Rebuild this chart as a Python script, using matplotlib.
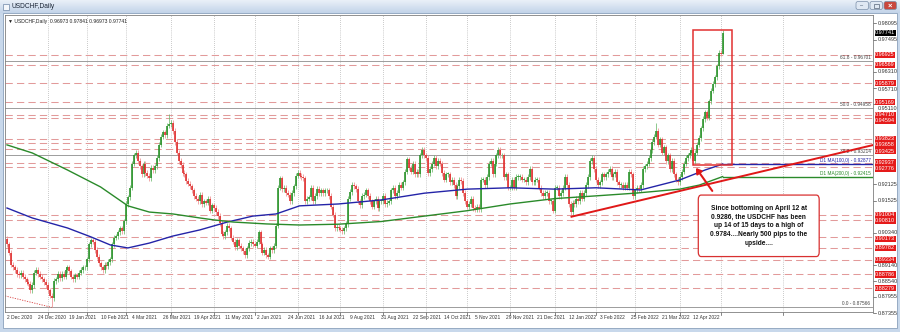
import numpy as np
import pandas as pd
import matplotlib.pyplot as plt
from matplotlib.patches import Rectangle, FancyBboxPatch, FancyArrowPatch

plt.rcParams['font.family'] = ['Liberation Sans', 'DejaVu Sans']

# daily closes, one list per month
close_2020_12 = [0.8990, 0.8960, 0.8915, 0.8905, 0.8895, 0.8880, 0.8875, 0.8885, 0.8870, 0.8860, 0.8850,
                 0.8845, 0.8820, 0.8840, 0.8885, 0.8895, 0.8880, 0.8870, 0.8860, 0.8850, 0.8840]
close_2021_01 = [0.8820, 0.8800, 0.8790, 0.8855, 0.8860, 0.8880, 0.8865, 0.8880, 0.8870, 0.8895,
                 0.8905, 0.8890, 0.8870, 0.8860, 0.8875, 0.8870, 0.8885, 0.8895, 0.8905, 0.8905]
close_2021_02 = [0.8935, 0.8990, 0.9005, 0.9000, 0.8970, 0.8945, 0.8920, 0.8905, 0.8895, 0.8915,
                 0.8910, 0.8925, 0.8935, 0.8990, 0.9015, 0.9020, 0.9035, 0.9050, 0.9040, 0.9075]
close_2021_03 = [0.9140, 0.9165, 0.9200, 0.9290, 0.9320, 0.9330, 0.9300, 0.9280, 0.9250, 0.9290, 0.9255, 0.9245,
                 0.9235, 0.9275, 0.9265, 0.9280, 0.9310, 0.9360, 0.9390, 0.9405, 0.9395, 0.9430, 0.9435]
close_2021_04 = [0.9440, 0.9410, 0.9370, 0.9330, 0.9300, 0.9285, 0.9255, 0.9250, 0.9225, 0.9215, 0.9205,
                 0.9190, 0.9170, 0.9160, 0.9150, 0.9175, 0.9140, 0.9150, 0.9145, 0.9160, 0.9115, 0.9135]
close_2021_05 = [0.9125, 0.9110, 0.9095, 0.9070, 0.9030, 0.9020, 0.9035, 0.9060, 0.9050, 0.9015, 0.9000,
                 0.8980, 0.9005, 0.8985, 0.8975, 0.8965, 0.8950, 0.8975, 0.8995, 0.9000, 0.8990]
close_2021_06 = [0.8985, 0.9000, 0.9035, 0.8990, 0.8960, 0.8970, 0.8950, 0.8945, 0.8975, 0.8970, 0.8985,
                 0.9060, 0.9200, 0.9235, 0.9195, 0.9200, 0.9180, 0.9175, 0.9150, 0.9180, 0.9205, 0.9245]
close_2021_07 = [0.9255, 0.9245, 0.9240, 0.9235, 0.9150, 0.9160, 0.9165, 0.9200, 0.9150, 0.9170, 0.9195,
                 0.9180, 0.9190, 0.9180, 0.9190, 0.9190, 0.9170, 0.9130, 0.9100, 0.9050, 0.9055, 0.9050]
close_2021_08 = [0.9045, 0.9040, 0.9050, 0.9065, 0.9160, 0.9185, 0.9210, 0.9205, 0.9195, 0.9150, 0.9135,
                 0.9170, 0.9175, 0.9190, 0.9170, 0.9150, 0.9130, 0.9150, 0.9160, 0.9125, 0.9150, 0.9150]
close_2021_09 = [0.9170, 0.9140, 0.9145, 0.9150, 0.9190, 0.9200, 0.9170, 0.9180, 0.9210, 0.9200, 0.9220,
                 0.9260, 0.9305, 0.9275, 0.9260, 0.9290, 0.9250, 0.9260, 0.9250, 0.9320, 0.9340, 0.9320]
close_2021_10 = [0.9310, 0.9255, 0.9270, 0.9290, 0.9310, 0.9280, 0.9300, 0.9290, 0.9255, 0.9230, 0.9250,
                 0.9250, 0.9220, 0.9230, 0.9210, 0.9170, 0.9205, 0.9230, 0.9225, 0.9180, 0.9150]
close_2021_11 = [0.9130, 0.9140, 0.9160, 0.9125, 0.9120, 0.9130, 0.9120, 0.9230, 0.9230, 0.9210, 0.9240,
                 0.9290, 0.9300, 0.9250, 0.9290, 0.9320, 0.9340, 0.9320, 0.9320, 0.9240, 0.9250, 0.9200]
close_2021_12 = [0.9200, 0.9230, 0.9200, 0.9240, 0.9240, 0.9240, 0.9230, 0.9230, 0.9220, 0.9240, 0.9270, 0.9220,
                 0.9220, 0.9230, 0.9230, 0.9200, 0.9180, 0.9170, 0.9180, 0.9180, 0.9150, 0.9150, 0.9115]
close_2022_01 = [0.9200, 0.9200, 0.9170, 0.9180, 0.9200, 0.9240, 0.9210, 0.9140, 0.9110, 0.9145, 0.9140,
                 0.9160, 0.9150, 0.9180, 0.9160, 0.9180, 0.9210, 0.9240, 0.9300, 0.9310, 0.9270]
close_2022_02 = [0.9230, 0.9210, 0.9220, 0.9250, 0.9240, 0.9250, 0.9260, 0.9270, 0.9240, 0.9250,
                 0.9260, 0.9220, 0.9210, 0.9210, 0.9200, 0.9210, 0.9200, 0.9260, 0.9250, 0.9170]
close_2022_03 = [0.9190, 0.9200, 0.9195, 0.9210, 0.9270, 0.9280, 0.9290, 0.9310, 0.9340, 0.9370, 0.9390, 0.9410,
                 0.9360, 0.9380, 0.9330, 0.9350, 0.9300, 0.9320, 0.9270, 0.9300, 0.9250, 0.9230, 0.9220]
close_2022_04 = [0.9240, 0.9260, 0.9290, 0.9310, 0.9320, 0.9330, 0.9340, 0.9300, 0.9330, 0.9360, 0.9385,
                 0.9420, 0.9455, 0.9480, 0.9460, 0.9520, 0.9560, 0.9585, 0.9610, 0.9650, 0.9700]
close_2022_05 = [0.96973, 0.97741]

first_open = 0.9010
wick = 0.0010
spike_idx = [23, 83, 289, 333, 352, 367]
spike_low = [0.87566, None, 0.9092, None, 0.9286, 0.96973]
spike_high = [None, 0.9473, None, 0.9440, None, 0.97841]

# moving averages sampled along the drawn curves (bar index, price)
ma100_idx = [0, 13, 31, 43, 53, 62, 73, 85, 99, 113, 126, 138, 150, 170, 192, 214, 236, 258, 281, 302, 325, 345, 358, 367]
ma100_val = [0.9125, 0.9088, 0.9051, 0.9018, 0.8988, 0.8977, 0.8995, 0.9021, 0.9044, 0.9073, 0.9095, 0.9103,
             0.9133, 0.9140, 0.9155, 0.9180, 0.9195, 0.9200, 0.9195, 0.9200, 0.9192, 0.9229, 0.9266, 0.92877]
ma200_idx = [0, 13, 31, 48, 62, 73, 85, 99, 106, 116, 133, 150, 170, 192, 214, 236, 258, 281, 302, 322, 345, 355, 367]
ma200_val = [0.9359, 0.9329, 0.9266, 0.9203, 0.9133, 0.9110, 0.9103, 0.9088, 0.9081, 0.9073, 0.9066, 0.9062,
             0.9065, 0.9075, 0.9095, 0.9115, 0.9140, 0.9160, 0.9170, 0.9180, 0.9195, 0.9210, 0.92415]

fib_levels = [0.96701, 0.94958, 0.93214, 0.87566]
fib_names = ['61.8', '50.0', '38.2', '0.0']
red_levels = [0.96925, 0.96569, 0.95879, 0.95169, 0.94710, 0.94594, 0.93823, 0.93658, 0.93425,
              0.92937, 0.92776, 0.91004, 0.90810, 0.90173, 0.89782, 0.89334, 0.88786, 0.88279]
grey_ticks = [0.98095, 0.97495, 0.96310, 0.95710, 0.95110, 0.92125, 0.91525, 0.90340,
              0.89140, 0.88540, 0.87955, 0.87355]
last_price = 0.97741
trend_idx = [289, 445]
trend_val = [0.9092, 0.9360]
date_labels = ['2 Dec 2020', '24 Dec 2020', '19 Jan 2021', '10 Feb 2021', '4 Mar 2021', '26 Mar 2021',
               '19 Apr 2021', '11 May 2021', '2 Jun 2021', '24 Jun 2021', '16 Jul 2021', '9 Aug 2021',
               '31 Aug 2021', '22 Sep 2021', '14 Oct 2021', '5 Nov 2021', '29 Nov 2021', '21 Dec 2021',
               '12 Jan 2022', '3 Feb 2022', '25 Feb 2022', '21 Mar 2022', '12 Apr 2022']
note = ("Since bottoming on April 12 at\n0.9286, the USDCHF has been\nup 14 of 15 days to a high of\n"
        "0.9784....Nearly 500 pips to the\nupside....")

closes = np.array(close_2020_12 + close_2021_01 + close_2021_02 + close_2021_03 + close_2021_04 +
                  close_2021_05 + close_2021_06 + close_2021_07 + close_2021_08 + close_2021_09 +
                  close_2021_10 + close_2021_11 + close_2021_12 + close_2022_01 + close_2022_02 +
                  close_2022_03 + close_2022_04 + close_2022_05)
dates = pd.bdate_range('2020-12-02', '2022-05-03')
dates = dates[~dates.isin(pd.to_datetime(['2020-12-25', '2021-01-01']))]
n = len(closes)
assert len(dates) == n

opens = np.concatenate([[first_open], closes[:-1]])
highs = np.maximum(opens, closes) + wick
lows = np.minimum(opens, closes) - wick
for i, lo, hi in zip(spike_idx, spike_low, spike_high):
    if lo is not None:
        lows[i] = lo
    if hi is not None:
        highs[i] = hi

W, H = 900, 332
fig = plt.figure(figsize=(9, 3.32), dpi=100)
fig.patch.set_facecolor('#c8d8eb')

# window chrome, drawn in pixel units
bg = fig.add_axes([0, 0, 1, 1])
bg.set_xlim(0, W)
bg.set_ylim(H, 0)
bg.axis('off')
grad = np.linspace(0, 1, 20).reshape(-1, 1)
bg.imshow(grad, cmap=plt.matplotlib.colors.LinearSegmentedColormap.from_list('t', ['#e9f0f8', '#c3d4e9']),
          extent=(0, W, 13, 0), aspect='auto')
bg.add_patch(Rectangle((3, 4), 6, 6, facecolor='#f4f7fb', edgecolor='#6f88a8', lw=0.5))
bg.text(12, 7, 'USDCHF,Daily', fontsize=4.8, color='#1b2636', va='center')
for x0, fc in [(856, '#dfe8f3'), (870, '#dfe8f3'), (884, '#c9473d')]:
    bg.add_patch(FancyBboxPatch((x0, 1.5), 12.5, 8, boxstyle='round,pad=0,rounding_size=2',
                                facecolor=fc, edgecolor='#7a8ea8', lw=0.5))
bg.text(862, 6, '–', fontsize=4, ha='center', va='center', color='#34445a')
bg.add_patch(Rectangle((874, 3.5), 4.5, 4, fill=False, edgecolor='#34445a', lw=0.4))
bg.text(890.2, 5.8, '×', fontsize=5.5, ha='center', va='center', color='white', fontweight='bold')
bg.add_patch(Rectangle((3, 13), 894, 315, facecolor='white', edgecolor='#8aa0bb', lw=0.6))

# price chart
x_px, px_bar, y_top, y_bot = 5, 1.95, 15, 312
ax = fig.add_axes([x_px / W, 1 - y_bot / H, (873 - x_px) / W, (y_bot - y_top) / H])
ax.set_facecolor('white')
ax.set_xlim(-1.03, -1.03 + (873 - x_px) / px_bar)
ax.set_ylim(0.96701 - (y_bot - 61) / 2697, 0.96701 + (61 - y_top) / 2697)
ax.set_xticks([])
ax.set_yticks([])
for s in ax.spines.values():
    s.set_color('#7f7f7f')
    s.set_linewidth(0.6)

# monthly separators
month_start = [i for i in range(1, n) if dates[i].month != dates[i - 1].month]
future = [398]
for i in month_start + future:
    ax.axvline(i, color='#9a9a9a', lw=0.5, ls=(0, (1, 2)), zorder=0)
    ax.plot([i, i], [0, -0.01], transform=ax.get_xaxis_transform(), color='#555555', lw=0.5, clip_on=False)

# dashed levels and fib levels
for v in red_levels:
    ax.axhline(v, color='#e29a9a', lw=0.75, dashes=(7, 4), zorder=1)
for v, nm in zip(fib_levels, fib_names):
    ax.axhline(v, color='#9c9c9c', lw=0.7, zorder=1)
    ax.text(0.997, v + 0.0004, f'{nm} - {v:.5f}', transform=ax.get_yaxis_transform(), ha='right', va='bottom',
            fontsize=3.4, color='#444444')
ax.plot([-1, 23], [0.8799, 0.87566], color='#d84040', lw=0.6, ls=(0, (1.5, 1.5)), zorder=2)

# candles
idx = np.arange(n)
up = closes >= opens
dn = ~up
ax.vlines(idx[up], lows[up], highs[up], color='#6fba6f', lw=0.55, zorder=3)
ax.vlines(idx[dn], lows[dn], highs[dn], color='#ee9090', lw=0.55, zorder=3)
bt = np.maximum(opens, closes)
bb = np.minimum(opens, closes)
bt = np.where(bt - bb < 0.0003, bb + 0.0003, bt)
ax.vlines(idx[up], bb[up], bt[up], color='#259025', lw=1.15, zorder=4)
ax.vlines(idx[dn], bb[dn], bt[dn], color='#df2828', lw=1.15, zorder=4)

# moving averages
right_end = ax.get_xlim()[1]
ax.plot(ma100_idx, ma100_val, color='#2424a8', lw=1.0, zorder=5)
ax.plot([ma100_idx[-1], right_end], [ma100_val[-1]] * 2, color='#2424a8', lw=1.0, zorder=5)
ax.plot(ma200_idx, ma200_val, color='#2a8a2a', lw=1.0, zorder=5)
ax.plot([ma200_idx[-1], right_end], [ma200_val[-1]] * 2, color='#2a8a2a', lw=1.0, zorder=5)
ax.text(0.997, ma100_val[-1] + 0.0003, f'D1 MA(100,0) - {ma100_val[-1]:.5f}', transform=ax.get_yaxis_transform(),
        ha='right', va='bottom', fontsize=3.4, color='#2424a8')
ax.text(0.997, ma200_val[-1] + 0.0003, f'D1 MA(200,0) - {ma200_val[-1]:.5f}', transform=ax.get_yaxis_transform(),
        ha='right', va='bottom', fontsize=3.4, color='#2a8a2a')

# annotations
ax.plot(trend_idx, trend_val, color='#e01818', lw=1.4, zorder=6, solid_capstyle='butt')
ax.add_patch(Rectangle((352, spike_low[4]), 19.8, spike_high[5] - spike_low[4], fill=False,
                       edgecolor='#e23030', lw=1.1, zorder=6))
ax.add_patch(FancyArrowPatch((362.5, 0.9180), (352.5, 0.9282), arrowstyle='-|>,head_length=3,head_width=2',
                             color='#e01818', lw=1.5, zorder=7, mutation_scale=1))
ax.add_patch(FancyBboxPatch((354.5, 0.8945), 62, 0.0228, boxstyle='round,pad=0,rounding_size=1.5',
                            facecolor='white', edgecolor='#d83030', lw=0.9, zorder=7,
                            mutation_aspect=0.0011))
ax.text(385.5, 0.9059, note, ha='center', va='center', fontsize=4.8, fontweight='bold',
        linespacing=1.38, color='#111111', zorder=8)

# info line
ax.text(0.004, 0.985, '▼ USDCHF,Daily  0.96973 0.97841 0.96973 0.97741', transform=ax.transAxes,
        fontsize=3.6, va='top', color='#222222')

# right price scale: labels stacked so they do not cover each other
yt = ax.get_yaxis_transform()
labels = [(v, 'grey') for v in grey_ticks] + [(v, 'red') for v in red_levels] + [(last_price, 'black')]
labels.sort(key=lambda t: -t[0])
to_px = lambda v: ax.transData.transform((0, v))[1]
from_px = lambda p: ax.transData.inverted().transform((0, p))[1]
gap = 6.2
prev = None
for v, kind in labels:
    p = to_px(v)
    if prev is not None and p > prev - gap:
        p = prev - gap
    prev = p
    yv = from_px(p)
    if kind == 'grey':
        ax.plot([1.0, 1.004], [v, v], transform=yt, color='#555555', lw=0.5, clip_on=False)
        ax.text(1.005, yv, f'{v:.5f}', transform=yt, fontsize=4.0, va='center', color='#333333', clip_on=False)
    else:
        fc = '#e51a1a' if kind == 'red' else 'black'
        ax.text(1.0025, yv, f'{v:.5f}', transform=yt, fontsize=4.0, va='center', color='white', clip_on=False,
                bbox=dict(boxstyle='square,pad=0.1', facecolor=fc, edgecolor='none'))

# date scale
xt = ax.get_xaxis_transform()
label_idx = [int(np.where(dates == pd.to_datetime(s, format='%d %b %Y'))[0][0]) for s in date_labels]
for i, s in zip(label_idx, date_labels):
    ax.text(i, -0.018, s, transform=xt, fontsize=3.5, va='center', ha='left', color='#333333', clip_on=False)

fig.savefig('out.png', dpi=100, facecolor=fig.get_facecolor())
